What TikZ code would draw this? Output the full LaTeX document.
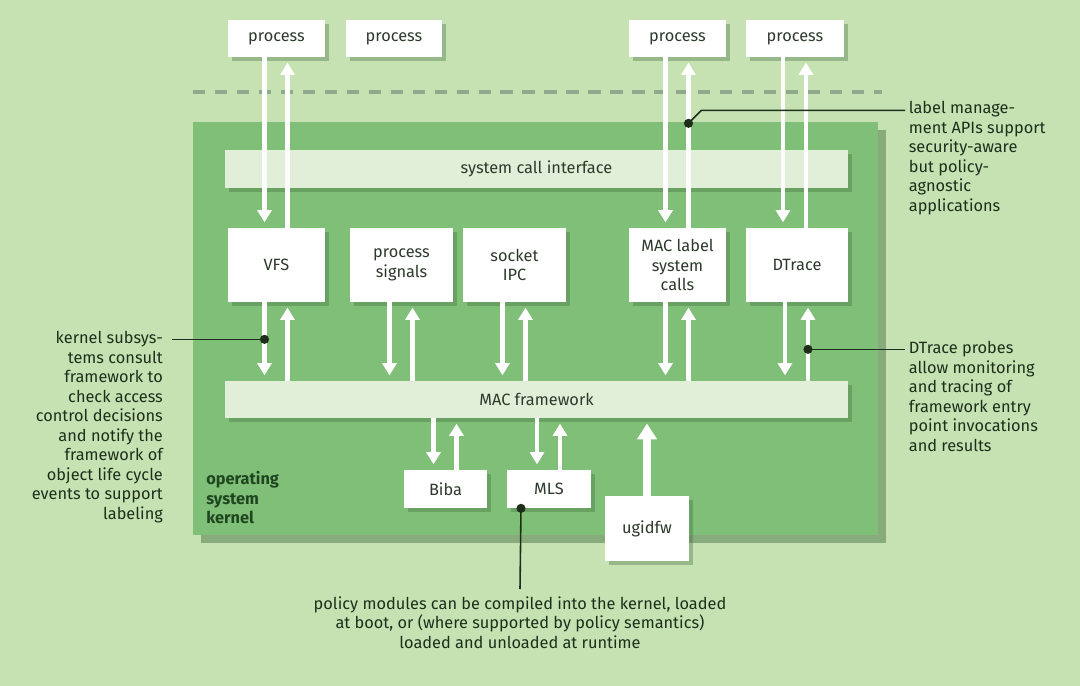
\documentclass[tikz,border=0pt]{standalone}
\usepackage{fontspec}
\setmainfont{Fira Sans}
\usetikzlibrary{arrows.meta,shadows}
\definecolor{bggreen}{HTML}{C6E2B3}
\definecolor{kgreen}{HTML}{80BF77}
\definecolor{barfill}{HTML}{E1EED8}
\definecolor{dashgray}{HTML}{8FA98C}
\definecolor{inkgreen}{HTML}{1D2F1B}
\definecolor{boxink}{HTML}{2C3A2B}
\definecolor{kerntext}{HTML}{1F4620}
\definecolor{shadowgreen}{HTML}{3E6A38}
\newcommand\txtfont{\fontsize{9.3}{11.1}\selectfont}
\tikzset{>={Triangle[width=8pt,length=7pt]}}
\tikzset{
  shade/.style={drop shadow={shadow xshift=2.5pt,shadow yshift=-2.5pt,
      fill=shadowgreen,opacity=.35}},
  wbox/.style={fill=white,inner sep=0pt,align=center,font=\txtfont,
      text=boxink,shade},
  bar/.style={fill=barfill,inner sep=0pt,font=\txtfont,text=boxink,shade},
  kernbox/.style={fill=kgreen,inner sep=0pt,
      drop shadow={shadow xshift=4.5pt,shadow yshift=-4.5pt,
      fill=shadowgreen,opacity=.45}},
  flow/.style={->,draw=white,line width=2.6pt,shorten >=3pt},
  note/.style={inner sep=0pt,text=inkgreen,font=\txtfont},
  callout/.style={draw=inkgreen,line width=0.9pt},
}
% box from corner (#3,#4) to corner (#5,#6), in pixels
\newcommand\boxat[7][wbox]{
    \node[#1,minimum width={(#5-#3)*0.02cm},minimum height={(#6-#4)*0.02cm}]
        (#2) at ({(#3+#5)/2},{(#4+#6)/2}) {#7};
}
% down and up arrow at the x of node #1, between anchors #2 and #3
\newcommand\pair[3]{
    \coordinate (dn) at ([xshift=-0.24cm]#1.center);
    \coordinate (up) at ([xshift=0.22cm]#1.center);
    \draw[flow] (dn |- #2) -- (dn |- #3);
    \draw[flow] (up |- #3) -- (up |- #2);
}

\begin{document}
\begin{tikzpicture}[x=0.02cm,y=-0.02cm]
    \fill[bggreen] (0,0) rectangle (1080,686);
    \useasboundingbox (0,0) rectangle (1080,686);

    \boxat[kernbox]{kernel}{193}{122}{878}{535}{}
    \node[note,text=kerntext,font=\txtfont\bfseries,align=left,anchor=north west]
        (klabel) at (206,471) {operating\\system\\kernel};

    \draw[dashgray,line width=2.8pt,dash pattern=on 7pt off 5.5pt] (193,92) -- (882,92);

    \boxat{p1}{228}{20}{325}{57}{process}
    \boxat{p2}{346}{20}{442}{57}{process}
    \boxat{p3}{629}{20}{726}{57}{process}
    \boxat{p4}{746}{20}{844}{57}{process}

    \boxat[bar]{sci}{225}{150}{848}{188}{system call interface}

    \boxat{vfs}{228}{228}{325}{302}{VFS}
    \boxat{sig}{350}{228}{453}{302}{process\\signals}
    \boxat{ipc}{463}{228}{566}{302}{socket\\IPC}
    \boxat{maclbl}{629}{228}{726}{302}{MAC label\\system\\calls}
    \boxat{dtrace}{746}{228}{848}{302}{DTrace}

    \boxat[bar]{macf}{225}{381}{848}{418}{MAC framework}

    \boxat{biba}{404}{470}{487}{508}{Biba}
    \boxat{mls}{507}{470}{591}{508}{MLS}
    \boxat{ugid}{605}{496}{689}{561}{ugidfw}

    % calls in and out
    \pair{p1}{p1.south}{vfs.north}
    \pair{p3}{p3.south}{maclbl.north}
    \pair{p4}{p4.south}{dtrace.north}
    \pair{vfs}{vfs.south}{macf.north}
    \pair{sig}{sig.south}{macf.north}
    \pair{ipc}{ipc.south}{macf.north}
    \pair{maclbl}{maclbl.south}{macf.north}
    \pair{dtrace}{dtrace.south}{macf.north}
    \pair{biba}{macf.south}{biba.north}
    \pair{mls}{macf.south}{mls.north}
    \draw[flow,line width=4pt,>={Triangle[width=11pt,length=9pt]}]
        (ugid.north) -- (ugid.north |- macf.south);

    % notes
    \node[note,align=left,anchor=north west,inner xsep=2pt] (lblnote) at (905,101)
        {label manage-\\ment APIs support\\security-aware\\but policy-\\agnostic\\applications};
    \node[note,align=right,anchor=north east,inner xsep=5pt] (kernnote) at (172,331)
        {kernel subsys-\\tems consult\\framework to\\check access\\control decisions\\and notify the\\framework of\\object life cycle\\events to support\\labeling};
    \node[note,align=left,anchor=north west,inner xsep=2pt] (dtnote) at (905,341)
        {DTrace probes\\allow monitoring\\and tracing of\\framework entry\\point invocations\\and results};
    \node[note,align=center,anchor=north,inner ysep=4pt] (mlsnote) at (520,589)
        {policy modules can be compiled into the kernel, loaded\\at boot, or (where supported by policy semantics)\\loaded and unloaded at runtime};

    \coordinate (dlbl) at ([xshift=0.22cm,yshift=-1.32cm]p3.south);
    \coordinate (dker) at ([xshift=-0.24cm,yshift=-0.74cm]vfs.south);
    \coordinate (ddt) at ([xshift=0.22cm,yshift=-0.94cm]dtrace.south);
    \coordinate (dmls) at ([xshift=-0.56cm]mls.south);

    \draw[callout] (dlbl) -- ++(13,-13) coordinate (bend) -- (bend -| lblnote.west);
    \draw[callout] (dker) -- (dker -| kernnote.east);
    \draw[callout] (ddt) -- (ddt -| dtnote.west);
    \draw[callout] (dmls) -- (mlsnote.north);
    \foreach \d in {dlbl,dker,ddt,dmls}
        \fill[inkgreen] (\d) circle (2.6pt);
\end{tikzpicture}
\end{document}
